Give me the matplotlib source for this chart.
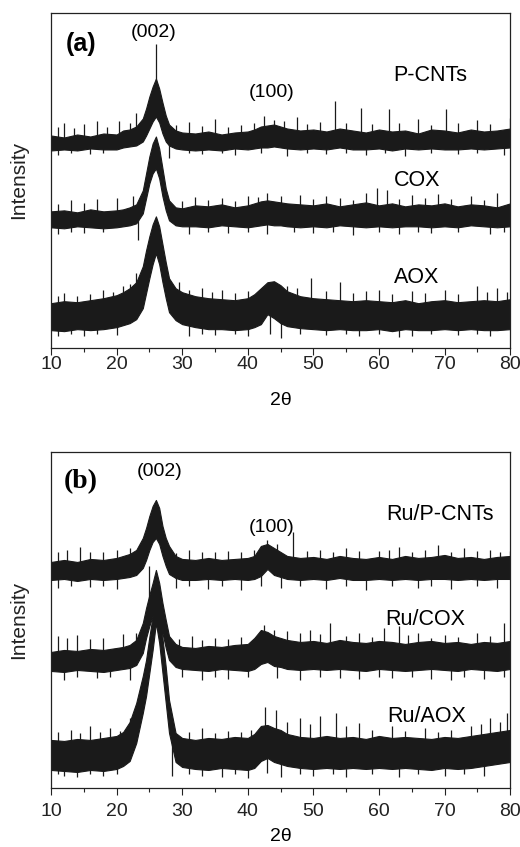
import numpy as np
import matplotlib
matplotlib.use("Agg")
import matplotlib.pyplot as plt

plt.rcParams['font.family'] = ['Liberation Sans', 'DejaVu Sans']

# shared 2-theta grid for the band envelopes
two_theta = [10, 12, 14, 16, 18, 20, 21, 22, 23, 24, 24.5, 25, 25.5, 26, 26.5, 27, 27.5, 28, 29, 30,
             32, 34, 36, 38, 40, 41, 42, 43, 44, 45, 46, 48, 50, 52, 54, 56, 58, 60, 62, 64,
             66, 68, 70, 72, 74, 76, 78, 80]

# ---- panel (a) ----
pcnt_hi = [213, 211, 214, 212, 215, 214, 218, 219, 222, 230, 240, 252, 262, 270, 260, 246, 233, 224, 218, 216,
           215, 217, 214, 216, 217, 219, 222, 223, 224, 222, 220, 218, 219, 217, 220, 218, 216, 219, 217, 218,
           215, 219, 218, 216, 219, 217, 218, 220]
pcnt_lo = [198, 199, 198, 200, 199, 199, 201, 202, 203, 207, 213, 220, 227, 232, 226, 215, 207, 203, 200, 199,
           198, 199, 198, 200, 199, 200, 201, 201, 202, 201, 200, 199, 200, 199, 201, 199, 199, 200, 198, 200,
           199, 200, 199, 199, 200, 199, 200, 201]
cox_hi = [137, 138, 136, 139, 137, 138, 139, 141, 144, 158, 175, 192, 205, 212, 200, 180, 160, 148, 141, 140,
          143, 142, 144, 141, 143, 145, 147, 148, 147, 146, 145, 144, 143, 145, 142, 144, 146, 143, 145, 142,
          144, 143, 145, 142, 144, 143, 141, 145]
cox_lo = [121, 120, 122, 121, 120, 121, 122, 123, 125, 135, 150, 165, 175, 180, 170, 152, 138, 128, 123, 122,
          122, 121, 123, 122, 121, 122, 123, 124, 123, 123, 122, 121, 122, 121, 123, 122, 121, 122, 121, 122,
          122, 121, 122, 121, 123, 122, 121, 122]
aox_hi = [45, 47, 46, 48, 50, 53, 56, 60, 66, 82, 98, 112, 124, 132, 122, 104, 86, 70, 60, 56,
          52, 50, 49, 48, 50, 54, 60, 66, 67, 63, 57, 52, 50, 49, 48, 47, 48, 47, 46, 48,
          45, 47, 48, 46, 47, 48, 47, 49]
aox_lo = [18, 17, 19, 18, 19, 21, 23, 25, 29, 40, 55, 70, 84, 95, 84, 66, 50, 36, 28, 24,
          21, 19, 19, 18, 19, 21, 24, 34, 30, 25, 22, 20, 19, 18, 19, 18, 18, 19, 17, 19,
          18, 18, 19, 18, 19, 18, 18, 19]

pcnt_up_x = [11, 12, 13.5, 15, 17, 18.5, 20.3, 22, 23, 26, 29, 31, 33, 35, 37, 39, 41, 42.5, 44, 45.5, 47.5,
             49, 51, 53.3, 55, 57.3, 59, 61.5, 63, 66, 68, 70.3, 72, 75, 77, 80]
pcnt_up_y = [222, 226, 221, 225, 228, 222, 228, 226, 236, 305, 224, 227, 223, 230, 222, 224, 226, 233, 229,
             228, 232, 225, 227, 248, 226, 241, 225, 240, 226, 230, 224, 240, 226, 229, 225, 231]
pcnt_dn_x = [11, 13, 16, 18, 28, 31, 33, 36, 38, 42, 46, 49, 52, 55, 58, 61, 64, 68, 72, 75, 79]
pcnt_dn_y = [193, 195, 194, 195, 190, 195, 194, 195, 193, 195, 192, 195, 194, 195, 193, 195, 192, 195, 194, 195, 193]

cox_up_x = [11, 13, 15, 17, 20, 22.5, 30, 32, 34, 36, 38, 40, 41.5, 43, 45, 48, 50, 52, 54, 56, 58, 59.7,
            61.3, 63, 65, 67, 69, 71, 74, 76, 78]
cox_up_y = [144, 148, 145, 149, 150, 152, 147, 151, 148, 150, 147, 152, 151, 155, 152, 153, 149, 152, 150,
            148, 155, 160, 158, 149, 153, 150, 154, 149, 152, 148, 155]
cox_dn_x = [11, 13, 15, 18, 23.3, 31, 34, 37, 40, 43, 47, 50, 53, 56, 60, 63, 66, 68, 72, 77, 79]
cox_dn_y = [114, 116, 115, 116, 108, 114, 116, 115, 116, 114, 116, 115, 116, 113, 116, 114, 116, 115, 116, 114, 116]

aox_up_x = [11, 12, 14, 16, 18, 19.5, 21, 22, 23, 29.5, 31, 33, 34.5, 36, 38, 40, 46, 47.5, 49.7, 52, 54,
            56, 58, 60, 62, 65, 67, 70, 72, 75, 76.5, 78, 79.5]
aox_up_y = [52, 55, 52, 54, 58, 56, 62, 64, 75, 66, 58, 60, 56, 58, 55, 57, 62, 60, 70, 57, 66, 55, 57,
            58, 54, 57, 55, 58, 54, 62, 56, 60, 56]
aox_dn_x = [11, 13, 15, 17, 20, 31, 33, 35, 38, 40, 43.4, 45, 48, 52, 55, 57, 60, 63, 65, 68, 72, 75, 77]
aox_dn_y = [12, 14, 12, 14, 13, 12, 14, 13, 14, 12, 14, 10, 14, 13, 14, 12, 14, 11, 12, 14, 13, 14, 12]

# ---- panel (b) ----
rpcnt_hi = [226, 228, 226, 229, 228, 230, 232, 234, 238, 250, 260, 272, 282, 288, 280, 262, 250, 242, 232, 229,
            228, 230, 228, 229, 230, 232, 242, 244, 240, 236, 232, 230, 231, 229, 232, 230, 229, 231, 229, 232,
            230, 231, 233, 230, 231, 229, 231, 232]
rpcnt_lo = [208, 209, 207, 209, 208, 209, 210, 211, 213, 220, 228, 238, 246, 250, 244, 232, 222, 214, 210, 208,
            208, 209, 208, 209, 208, 209, 212, 219, 213, 211, 209, 208, 209, 208, 210, 208, 208, 209, 208, 209,
            208, 209, 209, 208, 209, 208, 209, 209]
rcox_hi = [136, 138, 137, 139, 138, 140, 141, 143, 148, 165, 180, 193, 205, 218, 205, 185, 168, 152, 144, 141,
           140, 142, 141, 143, 144, 150, 158, 156, 152, 150, 148, 146, 147, 145, 148, 146, 145, 147, 146, 144,
           146, 147, 145, 146, 144, 146, 145, 147]
rcox_lo = [117, 116, 118, 117, 116, 118, 119, 120, 123, 135, 150, 162, 172, 178, 170, 155, 140, 128, 121, 119,
           118, 117, 119, 118, 117, 119, 124, 126, 122, 121, 119, 118, 119, 118, 119, 118, 117, 119, 118, 117,
           118, 119, 118, 117, 119, 118, 117, 119]
raox_hi = [48, 47, 49, 48, 50, 52, 56, 66, 85, 112, 128, 151, 172, 212, 185, 150, 121, 88, 55, 50,
           48, 50, 49, 51, 50, 54, 62, 63, 60, 58, 54, 51, 50, 52, 50, 51, 49, 52, 50, 51,
           50, 49, 51, 50, 52, 54, 56, 58]
raox_lo = [18, 17, 16, 18, 17, 19, 22, 27, 45, 75, 92, 115, 138, 165, 145, 115, 85, 55, 26, 21,
           19, 18, 20, 19, 18, 20, 27, 30, 26, 24, 22, 20, 19, 20, 19, 20, 19, 20, 19, 20,
           19, 18, 20, 19, 20, 22, 24, 26]

rpcnt_up_x = [11, 12.5, 14.4, 16, 18, 20, 22, 24, 29, 31, 33, 35, 37, 39, 41, 43, 44.5, 46.9, 49, 51, 53,
              55, 57, 60, 61.5, 63, 65, 67, 69, 71, 73, 75, 77, 78.5, 80]
rpcnt_up_y = [236, 238, 241, 236, 236, 238, 240, 245, 235, 238, 236, 236, 237, 236, 238, 248, 244, 256, 237,
              238, 236, 240, 237, 237, 238, 241, 236, 238, 243, 236, 240, 237, 238, 236, 237]
rpcnt_dn_x = [11, 13, 16, 18, 20, 29, 31, 34, 36, 39, 42, 45, 48, 52, 55, 58, 62, 66, 68, 71, 75, 78]
rpcnt_dn_y = [200, 202, 201, 202, 199, 200, 202, 199, 202, 198, 202, 200, 202, 199, 202, 198, 202, 200, 202, 199, 202, 200]

rcox_up_x = [11, 12.5, 14, 16, 18, 21, 23, 25, 29.5, 31.5, 33, 35, 37, 39, 42.5, 44, 46, 48, 49.5, 51, 52.5,
             55, 57, 59, 60.8, 63, 64.5, 66, 68, 70, 72, 75, 77, 79]
rcox_up_y = [152, 150, 153, 149, 150, 154, 155, 222, 149, 152, 148, 150, 149, 151, 163, 158, 157, 155, 158,
             154, 165, 152, 155, 151, 160, 162, 153, 155, 150, 153, 151, 155, 152, 165]
rcox_dn_x = [12, 14, 17, 19, 22, 30, 33, 35, 37, 40, 44.5, 48, 51, 54, 57, 60, 62, 65, 68, 71, 73, 76, 79]
rcox_dn_y = [108, 111, 110, 111, 108, 111, 108, 111, 109, 111, 110, 108, 111, 110, 109, 111, 110, 111, 109, 108, 111, 109, 111]

raox_up_x = [11, 13, 14.5, 16, 17.5, 19, 20.5, 22, 31, 33, 35, 37, 39, 40.5, 42.6, 44.3, 46, 48, 49.5, 51,
             53.5, 55, 57, 59, 62, 64, 67, 69, 71, 74, 75.5, 77, 78.5, 79.5]
raox_up_y = [56, 58, 55, 62, 56, 60, 57, 70, 56, 60, 55, 57, 56, 58, 81, 78, 66, 70, 64, 72, 75, 62, 65, 58,
             62, 57, 60, 56, 58, 62, 64, 70, 66, 75]
raox_dn_x = [11, 12, 14, 16, 18, 20, 28.5, 31, 33, 36, 38, 40, 43, 45, 48, 50, 53, 55, 59, 63, 66, 70, 73, 76]
raox_dn_y = [14, 12, 11, 14, 12, 14, 12, 14, 12, 11, 14, 10, 15, 11, 14, 12, 14, 11, 14, 11, 14, 12, 14, 12]

sample_labels_a = ['P-CNTs', 'COX', 'AOX']
sample_labels_b = ['Ru/P-CNTs', 'Ru/COX', 'Ru/AOX']

INK = '#1a1a1a'


def draw_trace(ax, hi, lo, up_x, up_y, dn_x, dn_y):
    x = np.array(two_theta)
    hi = np.array(hi)
    lo = np.array(lo)
    mid = (hi + lo) / 2.0
    ax.fill_between(x, lo, hi, color=INK, lw=0.8, edgecolor=INK)
    ax.vlines(up_x, np.interp(up_x, x, mid), up_y, color=INK, lw=0.9)
    ax.vlines(dn_x, dn_y, np.interp(dn_x, x, mid), color=INK, lw=0.9)


def style_axes(ax, pad):
    ax.set_xlim(10, 80)
    ax.set_ylim(0, 336)
    ax.set_yticks([])
    ax.set_xticks(range(10, 81, 10))
    ax.set_xticks(range(15, 80, 10), minor=True)
    ax.tick_params(axis='x', which='major', direction='out', length=5, width=0.8,
                   labelsize=14, pad=pad, colors='#222222')
    ax.tick_params(axis='x', which='minor', direction='out', length=3, width=0.8, colors='#222222')
    for sp in ax.spines.values():
        sp.set_linewidth(0.9)
        sp.set_color('#222222')
    ax.text(-0.07, 0.5, 'Intensity', transform=ax.transAxes, rotation=90,
            ha='center', va='center', fontsize=15, color='#222222')


fig = plt.figure(figsize=(5.2, 8.47), dpi=100)
ax1 = fig.add_axes([0.098, 0.589, 0.883, 0.396])
ax2 = fig.add_axes([0.098, 0.0697, 0.883, 0.3967])

draw_trace(ax1, pcnt_hi, pcnt_lo, pcnt_up_x, pcnt_up_y, pcnt_dn_x, pcnt_dn_y)
draw_trace(ax1, cox_hi, cox_lo, cox_up_x, cox_up_y, cox_dn_x, cox_dn_y)
draw_trace(ax1, aox_hi, aox_lo, aox_up_x, aox_up_y, aox_dn_x, aox_dn_y)

draw_trace(ax2, rpcnt_hi, rpcnt_lo, rpcnt_up_x, rpcnt_up_y, rpcnt_dn_x, rpcnt_dn_y)
draw_trace(ax2, rcox_hi, rcox_lo, rcox_up_x, rcox_up_y, rcox_dn_x, rcox_dn_y)
draw_trace(ax2, raox_hi, raox_lo, raox_up_x, raox_up_y, raox_dn_x, raox_dn_y)

style_axes(ax1, 1)
style_axes(ax2, 6)

# panel (a) annotations
ax1.text(12.3, 305, '(a)', fontsize=18, fontweight='bold', va='center', ha='left')
ax1.text(25.6, 316, '(002)', fontsize=14, ha='center', va='center')
ax1.text(43.7, 256, '(100)', fontsize=14, ha='center', va='center')
for lab, xx, yy in zip(sample_labels_a, [67.8, 65.8, 65.8], [273, 168, 71]):
    ax1.text(xx, yy, lab, fontsize=15.5, ha='center', va='center')
ax1.text(0.5, -0.155, '2\u03b8', transform=ax1.transAxes, ha='center', va='center', fontsize=14)

# panel (b) annotations
ax2.text(12.0, 306, '(b)', fontsize=20, fontweight='bold', va='center', ha='left',
         family=['Liberation Serif', 'DejaVu Serif'])
ax2.text(26.6, 316, '(002)', fontsize=14, ha='center', va='center')
ax2.text(43.7, 260, '(100)', fontsize=14, ha='center', va='center')
for lab, xx, yy in zip(sample_labels_b, [69.3, 67.0, 67.3], [273, 168, 71]):
    ax2.text(xx, yy, lab, fontsize=15.5, ha='center', va='center')
ax2.text(0.5, -0.145, '2\u03b8', transform=ax2.transAxes, ha='center', va='center', fontsize=14)

fig.savefig('out.png', dpi=100)
